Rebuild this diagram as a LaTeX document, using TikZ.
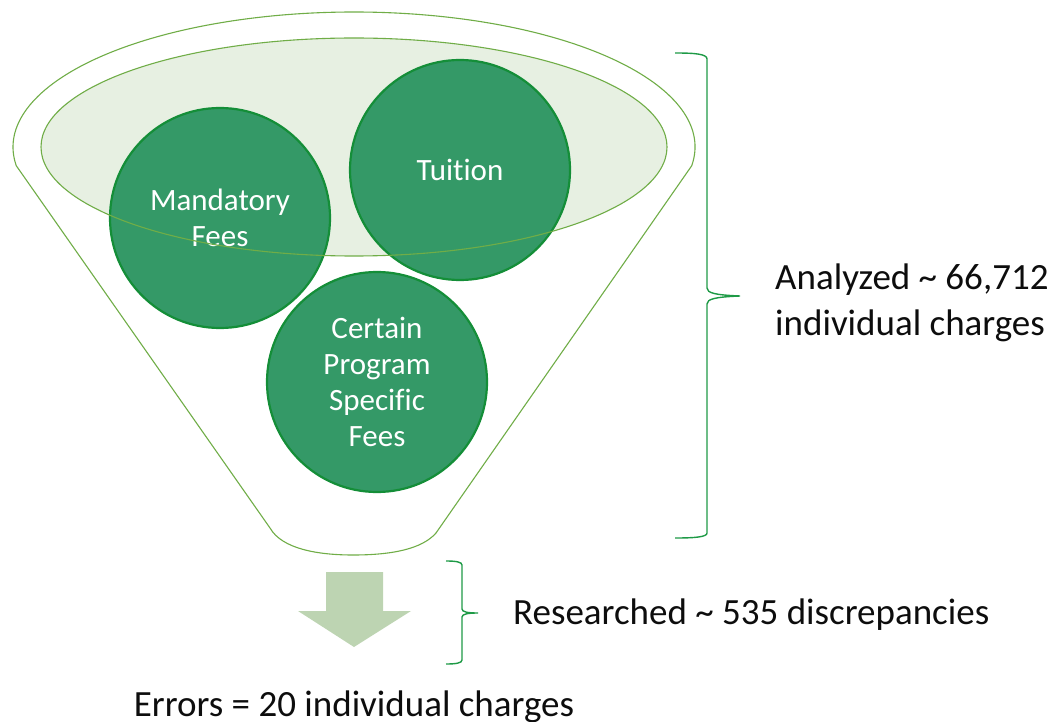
\documentclass[tikz,border=0pt]{standalone}
\usepackage{fontspec}
\setmainfont[Ligatures=CommonOff]{Carlito}
\definecolor{funnelline}{RGB}{112,173,71}
\definecolor{ellfill}{RGB}{231,240,226}
\definecolor{circfill}{RGB}{52,153,103}
\definecolor{circline}{RGB}{20,142,56}
\definecolor{bracecol}{RGB}{30,154,70}
\definecolor{arrowfill}{RGB}{189,212,178}
\definecolor{txt}{RGB}{13,13,13}
\tikzset{
  funnel/.style={draw=funnelline, line width=1.1pt, fill=white},
  innerfill/.style={fill=ellfill, draw=none},
  innerline/.style={draw=funnelline, line width=1.1pt},
  circ/.style={circle, minimum size=220pt, inner sep=0pt, fill=circfill, draw=circline, line width=2.2pt,
    text=white, align=center, font=\fontsize{31}{36}\selectfont},
  brace/.style={draw=bracecol, line width=1.4pt},
  blockarrow/.style={fill=arrowfill, draw=none},
  label/.style={text=txt, inner sep=0pt, font=\fontsize{37}{46}\selectfont}
}
\begin{document}
\begin{tikzpicture}[x=1pt,y=1pt]
\useasboundingbox (0,0) rectangle (1056,721);
% funnel body
\draw[funnel] (354,574) ++(-8:341 and 135) arc[start angle=-8,end angle=188,x radius=341,y radius=135]
  -- (270,193) .. controls (282,172) and (318,166) .. (353,166) .. controls (392,166) and (422,172) .. (436,188) -- cycle;
% inner ellipse fill
\path[innerfill] (354,574) ellipse[x radius=313, y radius=109];
% circles
\node[circ] (mandatory) at (220,503) {Mandatory\\Fees};
\node[circ] (tuition) at (460,551) {Tuition};
\node[circ] (certain) at (377,339) {Certain\\Program\\Specific\\Fees};
% inner ellipse outline on top
\path[innerline] (354,574) ellipse[x radius=313, y radius=109];
% block arrow
\path[blockarrow] (326,149) -- (383,149) -- (383,110) -- (411,110) -- (354,74) -- (298,110) -- (326,110) -- cycle;
% braces
\coordinate (bigtop) at (675,668);
\coordinate (bigtip) at (740,425);
\coordinate (bigbot) at (675,183);
\draw[brace] (bigtop) .. controls (695,668) and (707,667) .. (707,662) -- (707,433)
  .. controls (707,428) and (715,426) .. (bigtip) .. controls (715,424) and (707,422) .. (707,417)
  -- (707,188) .. controls (707,184) and (695,183) .. (bigbot);
\coordinate (smalltop) at (446,160);
\coordinate (smalltip) at (478,108);
\coordinate (smallbot) at (446,57);
\draw[brace] (smalltop) .. controls (456,160) and (462,159) .. (462,156) -- (462,112)
  .. controls (462,109) and (468,108) .. (smalltip) .. controls (468,108) and (462,107) .. (462,104)
  -- (462,61) .. controls (462,58) and (456,57) .. (smallbot);
% labels
\node[label, align=left, anchor=west] (analyzed) at (775,418) {Analyzed \textasciitilde{} 66,712\\individual charges};
\node[label, anchor=base west] (researched) at (513,97) {Researched \textasciitilde{} 535 discrepancies};
\node[label, anchor=base] (errors) at (354,5) {Errors = 20 individual charges};
\end{tikzpicture}
\end{document}
